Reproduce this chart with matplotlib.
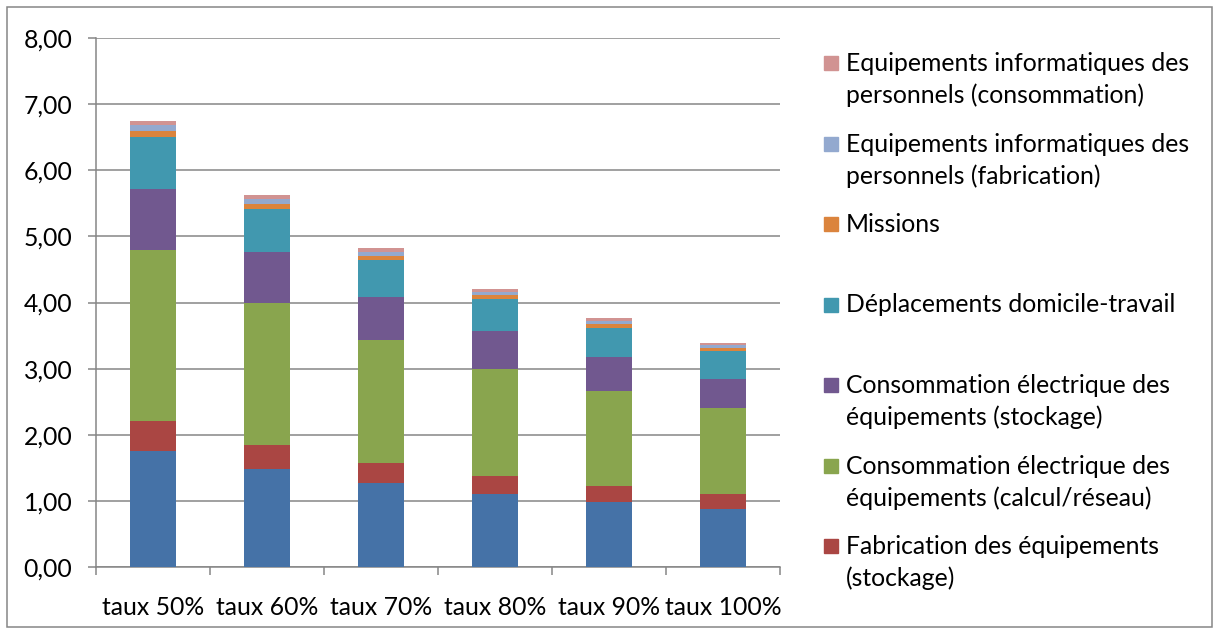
import matplotlib
matplotlib.use('Agg')
import matplotlib.pyplot as plt
import numpy as np
from matplotlib.patches import Rectangle
from matplotlib.ticker import FuncFormatter

plt.rcParams['font.family'] = ['Lato', 'DejaVu Sans']

# categories
categories = ['taux 50%', 'taux 60%', 'taux 70%', 'taux 80%', 'taux 90%', 'taux 100%']

# series values, bottom to top
fab_calcul = [1.76, 1.48, 1.27, 1.10, 0.98, 0.88]
fab_stockage = [0.45, 0.37, 0.31, 0.28, 0.25, 0.22]
conso_calcul = [2.59, 2.14, 1.85, 1.62, 1.43, 1.30]
conso_stockage = [0.92, 0.77, 0.65, 0.57, 0.51, 0.45]
deplacements = [0.79, 0.66, 0.56, 0.49, 0.45, 0.41]
missions = [0.08, 0.07, 0.07, 0.05, 0.05, 0.05]
perso_fabrication = [0.09, 0.07, 0.06, 0.05, 0.05, 0.04]
perso_consommation = [0.07, 0.06, 0.05, 0.05, 0.04, 0.03]

series = [
    ('Fabrication des équipements (calcul/réseau)', fab_calcul, '#4572A7'),
    ('Fabrication des équipements\n(stockage)', fab_stockage, '#AA4643'),
    ('Consommation électrique des\néquipements (calcul/réseau)', conso_calcul, '#89A54E'),
    ('Consommation électrique des\néquipements (stockage)', conso_stockage, '#71588F'),
    ('Déplacements domicile-travail', deplacements, '#4198AF'),
    ('Missions', missions, '#DB843D'),
    ('Equipements informatiques des\npersonnels (fabrication)', perso_fabrication, '#93A9CF'),
    ('Equipements informatiques des\npersonnels (consommation)', perso_consommation, '#D19392'),
]

fs = 17.8
W, H = 1213, 628
fig = plt.figure(figsize=(W / 100, H / 100), dpi=100)
ax = fig.add_axes([96 / W, 1 - 567 / H, (780 - 96) / W, (567 - 38) / H])

grey = '#868686'
x = np.arange(len(categories))
bottom = np.zeros(len(categories))
for name, vals, col in series:
    ax.bar(x, vals, width=0.41, bottom=bottom, color=col, zorder=3)
    bottom += np.array(vals)

# axes look
ax.set_xlim(-0.5, len(categories) - 0.5)
ax.set_ylim(0, 8)
ax.set_yticks(np.arange(0, 9, 1))
ax.yaxis.set_major_formatter(FuncFormatter(lambda v, p: f'{v:.2f}'.replace('.', ',')))
ax.yaxis.grid(True, color=grey, linewidth=1.1, zorder=0)
ax.set_axisbelow(True)
for s in ['top', 'right']:
    ax.spines[s].set_visible(False)
for s in ['left', 'bottom']:
    ax.spines[s].set_color(grey)
    ax.spines[s].set_linewidth(1.1)

ax.set_xticks(np.arange(-0.5, len(categories), 1))
ax.set_xticklabels([])
ax.set_xticks(x, minor=True)
ax.set_xticklabels(categories, minor=True)
ax.tick_params(axis='x', which='major', length=6, width=1.1, color=grey)
ax.tick_params(axis='x', which='minor', length=0, pad=21, labelsize=fs, labelcolor='black')
ax.tick_params(axis='y', length=6, width=1.1, color=grey, pad=11, labelsize=fs)

# outer frame
fig.add_artist(Rectangle((7 / W, 1 / H), (W - 8) / W, (H - 8) / H, transform=fig.transFigure,
                         fill=False, edgecolor=grey, linewidth=1.1))

# legend drawn by hand (marker aligned with first line like Excel)
legend_items = series[1:][::-1]
for i, (name, vals, col) in enumerate(legend_items):
    yc = 63 + 80.5 * i
    fig.add_artist(Rectangle((824 / W, 1 - (yc + 7) / H), 14 / W, 14 / H,
                             transform=fig.transFigure, color=col))
    for k, line in enumerate(name.split('\n')):
        fig.text(846 / W, 1 - (yc + 8 + 32 * k) / H, line, fontsize=fs,
                 va='baseline', ha='left')

fig.savefig('out.png', dpi=100)
